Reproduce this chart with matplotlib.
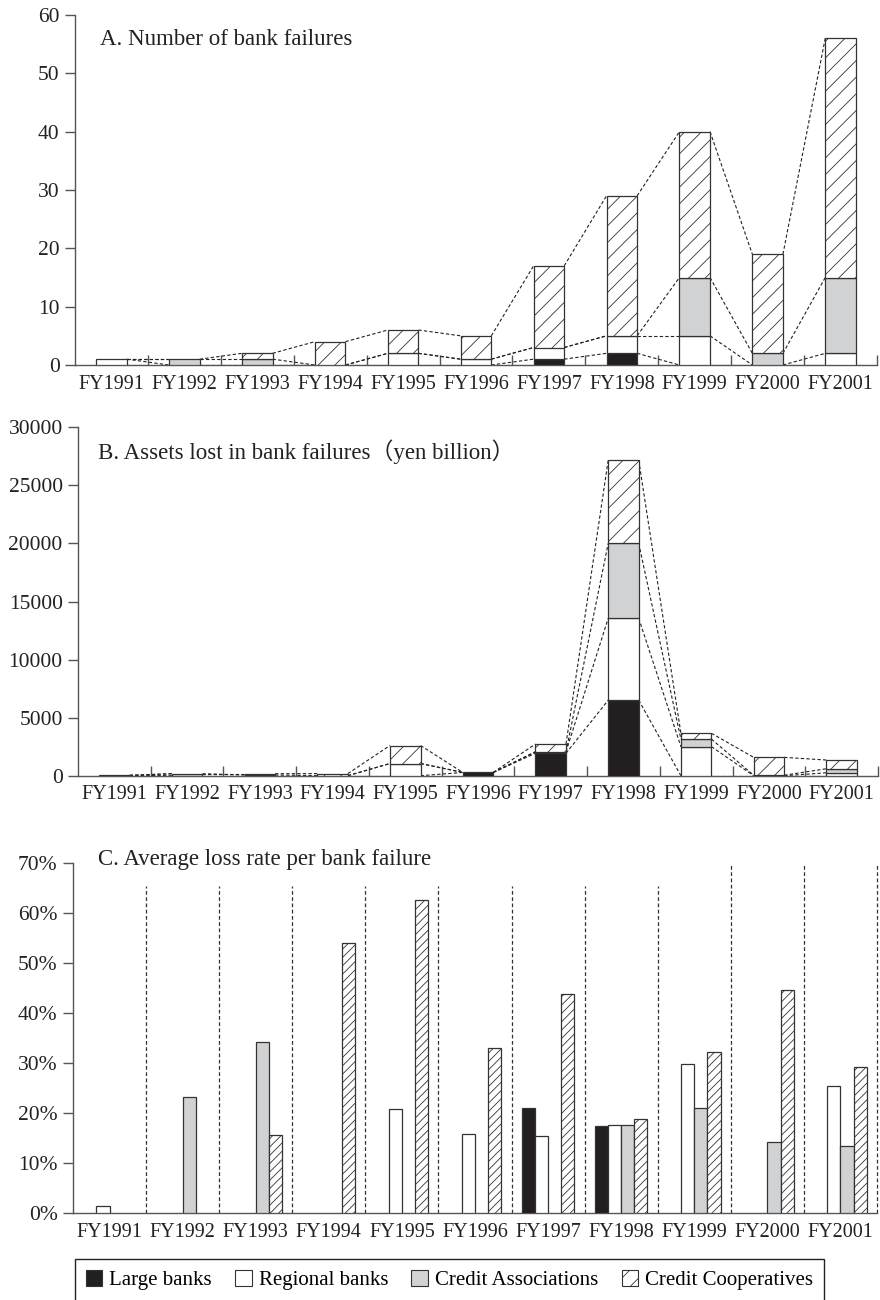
import matplotlib.pyplot as plt
import numpy as np
from matplotlib.patches import Patch
from matplotlib.ticker import FuncFormatter

plt.rcParams['font.family'] = ['Liberation Serif', 'Noto Sans CJK JP']
plt.rcParams['hatch.linewidth'] = 0.6

years = ['FY1991', 'FY1992', 'FY1993', 'FY1994', 'FY1995', 'FY1996',
         'FY1997', 'FY1998', 'FY1999', 'FY2000', 'FY2001']
labels = ['Large banks', 'Regional banks', 'Credit Associations', 'Credit Cooperatives']

# A. number of failures
a_large = [0, 0, 0, 0, 0, 0, 1, 2, 0, 0, 0]
a_regional = [1, 0, 0, 0, 2, 1, 2, 3, 5, 0, 2]
a_assoc = [0, 1, 1, 0, 0, 0, 0, 0, 10, 2, 13]
a_coop = [0, 0, 1, 4, 4, 4, 14, 24, 25, 17, 41]

# B. assets lost (yen billion)
b_large = [0, 0, 0, 0, 0, 280, 1930, 6500, 0, 0, 0]
b_regional = [30, 0, 0, 0, 1050, 0, 130, 7050, 2500, 0, 250]
b_assoc = [0, 170, 60, 0, 0, 0, 0, 6450, 650, 40, 350]
b_coop = [0, 0, 110, 180, 1550, 0, 670, 7150, 500, 1540, 750]

# C. average loss rate (%), 0 = no failure in that group
c_large = [0, 0, 0, 0, 0, 0, 21.0, 17.4, 0, 0, 0]
c_regional = [1.5, 0, 0, 0, 20.8, 15.9, 15.4, 17.6, 29.8, 0, 25.5]
c_assoc = [0, 23.2, 34.3, 0, 0, 0, 0, 17.6, 21.1, 14.2, 13.4]
c_coop = [0, 0, 15.6, 54.0, 62.6, 33.1, 43.8, 18.8, 32.3, 44.5, 29.3]

colors = ['#231f20', 'white', '#d1d2d4', 'white']
edge = '#333333'
spine_col = '#555555'
x = np.arange(len(years))

fig = plt.figure(figsize=(8.8, 13), dpi=100)
axA = fig.add_axes([75 / 880, 1 - 365 / 1300, 802 / 880, 350 / 1300])
axB = fig.add_axes([78 / 880, 1 - 775.7 / 1300, 800 / 880, 348.4 / 1300])
axC = fig.add_axes([73 / 880, 1 - 1213.3 / 1300, 804 / 880, 350.6 / 1300])


def style(ax, ymax, step):
    ax.spines[['top', 'right']].set_visible(False)
    for s in ['left', 'bottom']:
        ax.spines[s].set_color(spine_col)
        ax.spines[s].set_linewidth(1.0)
    ax.set_xlim(-0.5, 10.5)
    ax.set_ylim(0, ymax)
    ax.set_yticks(np.arange(0, ymax + 1, step))
    ax.set_xticks(x)
    ax.set_xticklabels(years)
    ax.tick_params(axis='x', length=0, pad=7, labelsize=14.5, colors='#222222')
    ax.tick_params(axis='y', direction='out', length=7, width=1.0, color=spine_col,
                   labelsize=15.5, labelcolor='#222222', pad=4)


def stacked(ax, series, w, hatch):
    bottom = np.zeros(len(x))
    levels = []
    for vals, col, h in zip(series, colors, [None, None, None, hatch]):
        v = np.array(vals, dtype=float)
        ax.bar(x, np.where(v > 0, v, np.nan), w, bottom=bottom, color=col,
               edgecolor=edge, lw=0.9, hatch=h, zorder=3)
        bottom = bottom + v
        levels.append(bottom.copy())
    # series lines between neighbouring stacks
    for lev in levels:
        for i in range(len(x) - 1):
            ax.plot([x[i] + w / 2, x[i + 1] - w / 2], [lev[i], lev[i + 1]],
                    ls=(0, (3, 2)), color='#222222', lw=0.8, zorder=2)
    ax.set_xticks(np.arange(0.5, 11, 1), minor=True)
    ax.tick_params(axis='x', which='minor', direction='in', length=7, width=1.0, color=spine_col)


style(axA, 60, 10)
stacked(axA, [a_large, a_regional, a_assoc, a_coop], 0.42, '//')
axA.text(0.031, 0.929, 'A. Number of bank failures', transform=axA.transAxes,
         fontsize=16.5, va='center', ha='left', color='#222222')

style(axB, 30000, 5000)
stacked(axB, [b_large, b_regional, b_assoc, b_coop], 0.42, '//')
axB.text(0.025, 0.93, 'B. Assets lost in bank failures（yen billion）', transform=axB.transAxes,
         fontsize=16.5, va='center', ha='left', color='#222222')

style(axC, 70, 10)
wc = 0.18
for k, (vals, col, h) in enumerate(zip([c_large, c_regional, c_assoc, c_coop], colors,
                                        [None, None, None, '////'])):
    v = np.array(vals, dtype=float)
    axC.bar(x + (k - 1.5) * wc, np.where(v > 0, v, np.nan), wc, color=col,
            edgecolor=edge, lw=0.9, hatch=h, zorder=3)
sep_x = np.arange(0.5, 11, 1)
sep_top = [65.3] * 8 + [69.5] * 3
for sx, st in zip(sep_x, sep_top):
    axC.plot([sx, sx], [0, st], ls=(0, (3, 2)), color='#333333', lw=0.9, clip_on=False, zorder=2)
axC.yaxis.set_major_formatter(FuncFormatter(lambda v, p: f'{int(v)}%'))
axC.text(0.031, 1.008, 'C. Average loss rate per bank failure', transform=axC.transAxes,
         fontsize=16.5, va='center', ha='left', color='#222222')

handles = [Patch(facecolor=colors[0], edgecolor=edge, lw=0.8),
           Patch(facecolor=colors[1], edgecolor=edge, lw=0.8),
           Patch(facecolor=colors[2], edgecolor=edge, lw=0.8),
           Patch(facecolor=colors[3], edgecolor=edge, lw=0.8, hatch='//')]
leg = fig.legend(handles, labels, loc='center', bbox_to_anchor=(449.5 / 880, 1 - 1280 / 1300),
                 ncol=4, frameon=True, fancybox=False, edgecolor='#222222', framealpha=1,
                 handlelength=0.8, handleheight=0.8, handletextpad=0.35, columnspacing=1.1,
                 fontsize=15, borderpad=0.5)
leg.get_frame().set_linewidth(1.0)

fig.savefig('out.png', dpi=100)
